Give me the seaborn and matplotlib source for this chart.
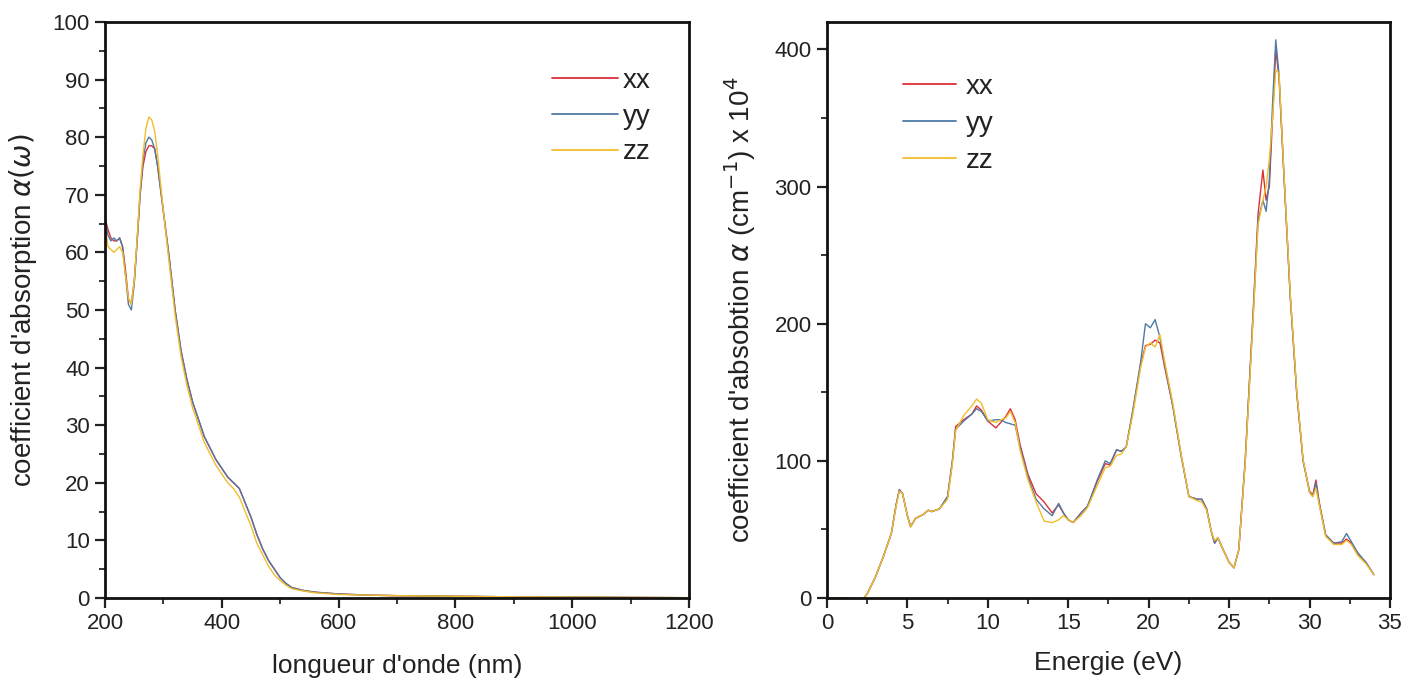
import numpy as np
import pandas as pd
import matplotlib
matplotlib.use("Agg")
import matplotlib.pyplot as plt
from matplotlib import font_manager
from matplotlib.ticker import MultipleLocator
import seaborn as sns

# ---- left panel: absorption vs wavelength ----
wavelength = [200, 205, 210, 215, 220, 225, 230, 235, 240, 245, 250, 255, 260, 265, 270,
              275, 280, 285, 290, 295, 300, 310, 320, 330, 340, 350, 360, 370, 380, 390,
              400, 410, 420, 430, 440, 450, 460, 470, 480, 490, 500, 510, 520, 540, 560,
              600, 650, 700, 800, 900, 1000, 1100, 1200]
alpha_xx_nm = [66, 64, 62.5, 62, 62, 62.5, 61, 57, 52, 51, 55, 62, 70, 75, 77.5,
               78.5, 78.5, 78, 75, 71, 67, 59, 50, 43, 38, 34, 31, 28, 26, 24,
               22.5, 21, 20, 19, 16.5, 14, 11, 8.5, 6.5, 5, 3.5, 2.5, 1.8, 1.3, 1.0,
               0.7, 0.5, 0.4, 0.3, 0.2, 0.15, 0.1, 0.05]
alpha_yy_nm = [66, 63, 62, 62.5, 62, 62.5, 61, 56, 51, 50, 54.5, 62, 70, 76, 79,
               80, 79.5, 78, 75, 71, 67, 59, 50, 43, 38, 34, 31, 28, 26, 24,
               22.5, 21, 20, 19, 16.5, 14, 11, 8.5, 6.5, 5, 3.5, 2.5, 1.8, 1.3, 1.0,
               0.7, 0.5, 0.4, 0.3, 0.2, 0.15, 0.1, 0.05]
alpha_zz_nm = [65, 61, 60.5, 60, 60.5, 61, 60, 56, 52, 51, 55, 62.5, 71, 77, 81.5,
               83.5, 83, 81, 77, 72, 67, 58, 49, 42, 37, 33, 30, 27, 25, 23,
               21.5, 20, 19, 17.5, 15, 12.5, 9.5, 7.5, 5.5, 4, 3, 2.2, 1.6, 1.2, 0.9,
               0.6, 0.5, 0.4, 0.3, 0.2, 0.15, 0.1, 0.05]

# ---- right panel: absorption vs photon energy ----
energy = [0, 1, 1.5, 2.0, 2.3, 2.5, 3.0, 3.5, 4.0, 4.3, 4.5, 4.7, 5.0, 5.2, 5.5, 6.0,
          6.3, 6.5, 7.0, 7.5, 7.8, 8.0, 8.5, 9.0, 9.3, 9.6, 10.0, 10.5, 10.8, 11.1,
          11.4, 11.7, 12.0, 12.5, 13.0, 13.5, 14.0, 14.4, 14.7, 15.0, 15.3, 15.8,
          16.2, 16.8, 17.3, 17.6, 18.0, 18.3, 18.6, 19.0, 19.5, 19.8, 20.1, 20.4,
          20.7, 21.0, 21.5, 22.0, 22.5, 23.0, 23.3, 23.6, 23.9, 24.1, 24.3, 24.6,
          25.0, 25.3, 25.6, 26.0, 26.5, 26.8, 27.1, 27.3, 27.5, 27.7, 27.9, 28.1,
          28.4, 28.8, 29.2, 29.6, 30.0, 30.2, 30.4, 30.6, 31.0, 31.5, 32.0, 32.3,
          32.6, 33.0, 33.5, 34.0]
alpha_xx_ev = [0, 0, -0.5, -0.5, 0, 3, 15, 30, 47, 68, 79, 76, 60, 52, 58, 61,
               64, 63, 65, 74, 100, 125, 130, 134, 140, 137, 129, 124, 128, 132,
               138, 130, 112, 90, 76, 70, 62, 68, 62, 57, 55, 62,
               67, 85, 98, 97, 108, 107, 110, 135, 170, 184, 185, 188,
               186, 168, 140, 105, 74, 72, 72, 65, 48, 40, 44, 36,
               26, 22, 35, 100, 210, 280, 312, 290, 300, 350, 400, 380,
               310, 220, 150, 100, 78, 75, 86, 70, 46, 40, 40, 43,
               40, 32, 26, 17]
alpha_yy_ev = [0, 0, -0.5, -0.5, 0, 3, 15, 30, 47, 68, 79, 76, 60, 52, 58, 61,
               64, 63, 65, 74, 100, 123, 129, 134, 138, 136, 129, 130, 130, 128,
               127, 126, 110, 88, 72, 65, 60, 69, 62, 57, 55, 62,
               67, 86, 100, 98, 108, 107, 110, 136, 172, 200, 197, 203,
               190, 170, 140, 105, 74, 72, 72, 65, 48, 40, 44, 36,
               26, 22, 35, 100, 208, 275, 290, 282, 305, 360, 407, 382,
               310, 220, 150, 100, 77, 74, 84, 69, 46, 40, 41, 47,
               41, 33, 26, 17]
alpha_zz_ev = [0, 0, -0.5, -0.5, 0, 3, 15, 30, 47, 67, 78, 76, 60, 52, 58, 61,
               64, 63, 65, 72, 98, 122, 133, 140, 145, 142, 130, 128, 130, 131,
               136, 128, 108, 86, 70, 56, 55, 57, 60, 57, 55, 60,
               66, 82, 95, 96, 104, 105, 110, 133, 168, 183, 186, 183,
               192, 172, 142, 106, 74, 71, 70, 64, 48, 42, 44, 36,
               26, 22, 35, 98, 205, 272, 290, 300, 320, 350, 385, 383,
               312, 222, 152, 101, 77, 74, 80, 68, 45, 39, 39, 42,
               39, 31, 25, 17]

series = ["xx", "yy", "zz"]
palette = {"xx": "#dc2f36", "yy": "#4d7aa6", "zz": "#f2bd2c"}

df_nm = pd.concat([
    pd.DataFrame({"x": wavelength, "y": v, "comp": s})
    for s, v in zip(series, [alpha_xx_nm, alpha_yy_nm, alpha_zz_nm])
])
df_ev = pd.concat([
    pd.DataFrame({"x": energy, "y": v, "comp": s})
    for s, v in zip(series, [alpha_xx_ev, alpha_yy_ev, alpha_zz_ev])
])

sns.set_style("ticks")
installed = {f.name for f in font_manager.fontManager.ttflist}
narrow = "Liberation Sans Narrow" if "Liberation Sans Narrow" in installed else "Liberation Sans"
plt.rcParams["font.family"] = [narrow, "DejaVu Sans"]
plt.rcParams["mathtext.fontset"] = "dejavusans"

fig = plt.figure(figsize=(14.1, 6.91), dpi=100)
ax1 = fig.add_axes([0.0745, 0.1346, 0.4142, 0.8336])
ax2 = fig.add_axes([0.5865, 0.1346, 0.3993, 0.8336])

for ax, df in [(ax1, df_nm), (ax2, df_ev)]:
    sns.lineplot(data=df, x="x", y="y", hue="comp", palette=palette,
                 estimator=None, sort=False, linewidth=1.0, ax=ax)
    for sp in ax.spines.values():
        sp.set_visible(True)
        sp.set_linewidth(2.0)
        sp.set_color("#111111")
    ax.tick_params(which="major", direction="out", length=7, width=1.6, pad=4,
                   labelsize=16, colors="#222222", top=False, right=False)
    ax.tick_params(which="minor", direction="out", length=4, width=1.3,
                   top=False, right=False)

label_font = {"family": ["Liberation Sans", "DejaVu Sans"], "color": "#222222"}

ax1.set_xlim(200, 1200)
ax1.set_ylim(0, 100)
ax1.xaxis.set_major_locator(MultipleLocator(200))
ax1.xaxis.set_minor_locator(MultipleLocator(100))
ax1.yaxis.set_major_locator(MultipleLocator(10))
ax1.yaxis.set_minor_locator(MultipleLocator(5))
ax1.set_xlabel("longueur d'onde (nm)", fontsize=19, labelpad=14, color="#222222")
ax1.set_ylabel(r"coefficient d'absorption $\alpha(\omega)$", fontsize=20,
               labelpad=10, fontdict=label_font)

ax2.set_xlim(0, 35)
ax2.set_ylim(0, 420)
ax2.xaxis.set_major_locator(MultipleLocator(5))
ax2.xaxis.set_minor_locator(MultipleLocator(2.5))
ax2.yaxis.set_major_locator(MultipleLocator(100))
ax2.yaxis.set_minor_locator(MultipleLocator(50))
ax2.set_xlabel("Energie (eV)", fontsize=19, labelpad=12, color="#222222")
ax2.set_ylabel(r"coefficient d'absobtion $\alpha$ (cm$^{-1}$) x 10$^{4}$",
               fontsize=20, labelpad=12, fontdict=label_font)

leg1 = ax1.legend(loc="upper left", bbox_to_anchor=(0.765, 0.92), frameon=False,
                  fontsize=20, handlelength=2.4, handletextpad=0.15,
                  labelspacing=0.35, borderpad=0, borderaxespad=0)
leg2 = ax2.legend(loc="upper left", bbox_to_anchor=(0.135, 0.91), frameon=False,
                  fontsize=20, handlelength=1.9, handletextpad=0.35,
                  labelspacing=0.4, borderpad=0, borderaxespad=0)
for leg in (leg1, leg2):
    for line in leg.get_lines():
        line.set_linewidth(1.3)
    for t in leg.get_texts():
        t.set_color("#222222")

fig.savefig("out.png", dpi=100, facecolor="white")
